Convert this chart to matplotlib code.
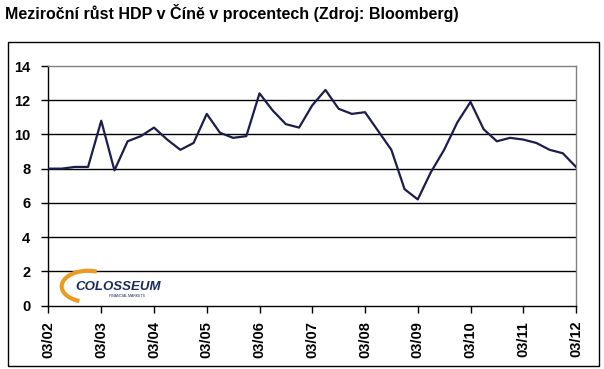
import numpy as np
import matplotlib.pyplot as plt
from matplotlib.patches import Rectangle, Arc

plt.rcParams['font.family'] = ['Liberation Sans', 'DejaVu Sans']

# Meziroční růst HDP v Číně, čtvrtletně 03/2002 - 03/2012
hdp = [8.0, 8.0, 8.1, 8.1, 10.8, 7.9, 9.6, 9.9, 10.4, 9.7,
       9.1, 9.5, 11.2, 10.1, 9.8, 9.9, 12.4, 11.4, 10.6, 10.4,
       11.7, 12.6, 11.5, 11.2, 11.3, 10.2, 9.1, 6.8, 6.2, 7.8,
       9.1, 10.7, 11.9, 10.3, 9.6, 9.8, 9.7, 9.5, 9.1, 8.9, 8.1]
roky = ['03/02', '03/03', '03/04', '03/05', '03/06', '03/07',
        '03/08', '03/09', '03/10', '03/11', '03/12']
y_ticks = [0, 2, 4, 6, 8, 10, 12, 14]

W, H = 604, 369
fig = plt.figure(figsize=(W / 100, H / 100), dpi=100)

# vnejsi ramecek
fig.patches.append(Rectangle((8 / W, 1 - 366 / H), 591 / W, 324 / H,
                             transform=fig.transFigure, fill=False,
                             edgecolor='black', linewidth=1))

fig.text(5 / W, 1 - 13 / H, 'Meziroční růst HDP v Číně v procentech (Zdroj: Bloomberg)',
         fontsize=11.5, fontweight='bold', va='center', ha='left')

ax = fig.add_axes([48.5 / W, 1 - 305.5 / H, (576 - 48.5) / W, (305.5 - 66) / H])
x = np.arange(len(hdp))
ax.plot(x, hdp, color='#1c1c4e', linewidth=1.6, zorder=3)

ax.set_xlim(0, 40)
ax.set_ylim(0, 14)
ax.set_yticks(y_ticks)
ax.set_xticks(np.arange(0, 41, 4))
ax.set_xticklabels(roky, rotation=90, fontweight='bold', fontsize=10.5)
ax.set_yticklabels([str(v) for v in y_ticks], fontweight='bold', fontsize=10.5)
ax.tick_params(axis='both', direction='out', length=5, width=1, color='black')
ax.tick_params(axis='x', pad=6)
ax.tick_params(axis='y', pad=8)

for v in y_ticks[1:-1]:
    ax.axhline(v, color='black', linewidth=1, zorder=1)

ax.spines['top'].set_color('#808080')
ax.spines['right'].set_color('#808080')
ax.spines['left'].set_color('black')
ax.spines['bottom'].set_color('black')
for s in ax.spines.values():
    s.set_linewidth(1)

# logo
ax.add_patch(Arc((0.075, 0.08), 0.1, 0.13, theta1=75, theta2=255,
                 transform=ax.transAxes, color='#eb9b22', linewidth=3, zorder=2))
ax.text(0.05, 0.065, 'COLOSSEUM', transform=ax.transAxes, fontsize=9.5,
        fontweight='bold', style='italic', color='#1a2a5a', zorder=4)
ax.text(0.115, 0.035, 'FINANCIAL MARKETS', transform=ax.transAxes, fontsize=2.5,
        color='#1a2a5a', zorder=4)

fig.savefig('out.png', dpi=100)
